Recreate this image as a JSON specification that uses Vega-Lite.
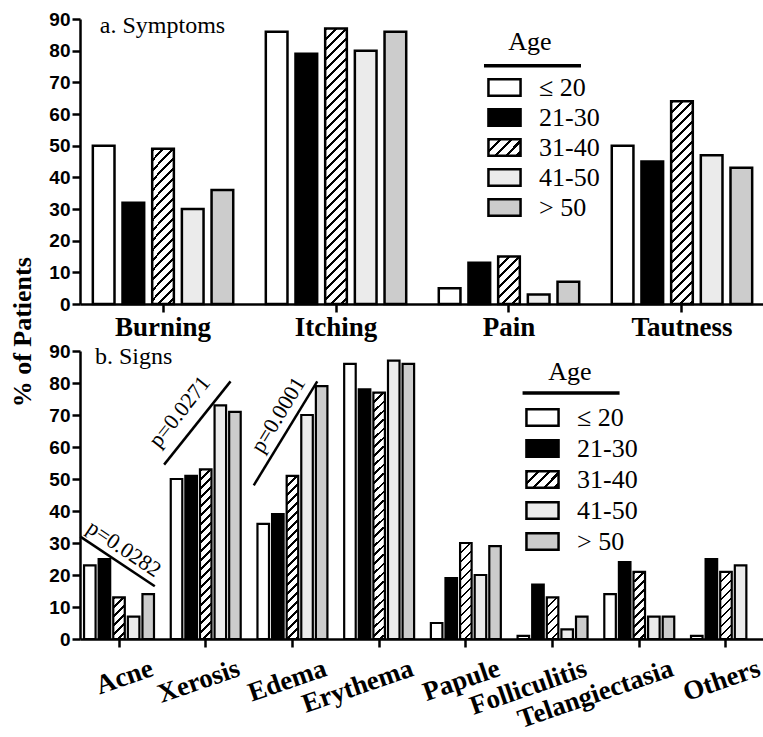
{
  "$schema": "https://vega.github.io/schema/vega-lite/v6.json",
  "background": "white",
  "padding": {"left": 9, "top": 10, "right": 0, "bottom": 0},
  "params": [
    {"name": "hs", "value": [
      {"offset": 0, "color": "black"}, {"offset": 0.01, "color": "black"}, {"offset": 0.01, "color": "white"}, {"offset": 0.0333, "color": "white"},
      {"offset": 0.0333, "color": "black"}, {"offset": 0.0433, "color": "black"}, {"offset": 0.0433, "color": "white"}, {"offset": 0.0667, "color": "white"},
      {"offset": 0.0667, "color": "black"}, {"offset": 0.0767, "color": "black"}, {"offset": 0.0767, "color": "white"}, {"offset": 0.1, "color": "white"},
      {"offset": 0.1, "color": "black"}, {"offset": 0.11, "color": "black"}, {"offset": 0.11, "color": "white"}, {"offset": 0.1333, "color": "white"},
      {"offset": 0.1333, "color": "black"}, {"offset": 0.1433, "color": "black"}, {"offset": 0.1433, "color": "white"}, {"offset": 0.1667, "color": "white"},
      {"offset": 0.1667, "color": "black"}, {"offset": 0.1767, "color": "black"}, {"offset": 0.1767, "color": "white"}, {"offset": 0.2, "color": "white"},
      {"offset": 0.2, "color": "black"}, {"offset": 0.21, "color": "black"}, {"offset": 0.21, "color": "white"}, {"offset": 0.2333, "color": "white"},
      {"offset": 0.2333, "color": "black"}, {"offset": 0.2433, "color": "black"}, {"offset": 0.2433, "color": "white"}, {"offset": 0.2667, "color": "white"},
      {"offset": 0.2667, "color": "black"}, {"offset": 0.2767, "color": "black"}, {"offset": 0.2767, "color": "white"}, {"offset": 0.3, "color": "white"},
      {"offset": 0.3, "color": "black"}, {"offset": 0.31, "color": "black"}, {"offset": 0.31, "color": "white"}, {"offset": 0.3333, "color": "white"},
      {"offset": 0.3333, "color": "black"}, {"offset": 0.3433, "color": "black"}, {"offset": 0.3433, "color": "white"}, {"offset": 0.3667, "color": "white"},
      {"offset": 0.3667, "color": "black"}, {"offset": 0.3767, "color": "black"}, {"offset": 0.3767, "color": "white"}, {"offset": 0.4, "color": "white"},
      {"offset": 0.4, "color": "black"}, {"offset": 0.41, "color": "black"}, {"offset": 0.41, "color": "white"}, {"offset": 0.4333, "color": "white"},
      {"offset": 0.4333, "color": "black"}, {"offset": 0.4433, "color": "black"}, {"offset": 0.4433, "color": "white"}, {"offset": 0.4667, "color": "white"},
      {"offset": 0.4667, "color": "black"}, {"offset": 0.4767, "color": "black"}, {"offset": 0.4767, "color": "white"}, {"offset": 0.5, "color": "white"},
      {"offset": 0.5, "color": "black"}, {"offset": 0.51, "color": "black"}, {"offset": 0.51, "color": "white"}, {"offset": 0.5333, "color": "white"},
      {"offset": 0.5333, "color": "black"}, {"offset": 0.5433, "color": "black"}, {"offset": 0.5433, "color": "white"}, {"offset": 0.5667, "color": "white"},
      {"offset": 0.5667, "color": "black"}, {"offset": 0.5767, "color": "black"}, {"offset": 0.5767, "color": "white"}, {"offset": 0.6, "color": "white"},
      {"offset": 0.6, "color": "black"}, {"offset": 0.61, "color": "black"}, {"offset": 0.61, "color": "white"}, {"offset": 0.6333, "color": "white"},
      {"offset": 0.6333, "color": "black"}, {"offset": 0.6433, "color": "black"}, {"offset": 0.6433, "color": "white"}, {"offset": 0.6667, "color": "white"},
      {"offset": 0.6667, "color": "black"}, {"offset": 0.6767, "color": "black"}, {"offset": 0.6767, "color": "white"}, {"offset": 0.7, "color": "white"},
      {"offset": 0.7, "color": "black"}, {"offset": 0.71, "color": "black"}, {"offset": 0.71, "color": "white"}, {"offset": 0.7333, "color": "white"},
      {"offset": 0.7333, "color": "black"}, {"offset": 0.7433, "color": "black"}, {"offset": 0.7433, "color": "white"}, {"offset": 0.7667, "color": "white"},
      {"offset": 0.7667, "color": "black"}, {"offset": 0.7767, "color": "black"}, {"offset": 0.7767, "color": "white"}, {"offset": 0.8, "color": "white"},
      {"offset": 0.8, "color": "black"}, {"offset": 0.81, "color": "black"}, {"offset": 0.81, "color": "white"}, {"offset": 0.8333, "color": "white"},
      {"offset": 0.8333, "color": "black"}, {"offset": 0.8433, "color": "black"}, {"offset": 0.8433, "color": "white"}, {"offset": 0.8667, "color": "white"},
      {"offset": 0.8667, "color": "black"}, {"offset": 0.8767, "color": "black"}, {"offset": 0.8767, "color": "white"}, {"offset": 0.9, "color": "white"},
      {"offset": 0.9, "color": "black"}, {"offset": 0.91, "color": "black"}, {"offset": 0.91, "color": "white"}, {"offset": 0.9333, "color": "white"},
      {"offset": 0.9333, "color": "black"}, {"offset": 0.9433, "color": "black"}, {"offset": 0.9433, "color": "white"}, {"offset": 0.9667, "color": "white"},
      {"offset": 0.9667, "color": "black"}, {"offset": 0.9767, "color": "black"}, {"offset": 0.9767, "color": "white"}, {"offset": 1, "color": "white"}
    ]}
  ],
  "title": {"text": "% of Patients", "orient": "left", "anchor": "middle", "font": "Liberation Serif", "fontSize": 26, "fontWeight": "bold", "color": "black", "offset": 13, "dx": 39},
  "datasets": {
    "symptoms": [
      {"cat": "Burning", "age": "≤ 20", "pct": 50}, {"cat": "Burning", "age": "21-30", "pct": 32}, {"cat": "Burning", "age": "31-40", "pct": 49}, {"cat": "Burning", "age": "41-50", "pct": 30}, {"cat": "Burning", "age": "> 50", "pct": 36},
      {"cat": "Itching", "age": "≤ 20", "pct": 86}, {"cat": "Itching", "age": "21-30", "pct": 79}, {"cat": "Itching", "age": "31-40", "pct": 87}, {"cat": "Itching", "age": "41-50", "pct": 80}, {"cat": "Itching", "age": "> 50", "pct": 86},
      {"cat": "Pain", "age": "≤ 20", "pct": 5}, {"cat": "Pain", "age": "21-30", "pct": 13}, {"cat": "Pain", "age": "31-40", "pct": 15}, {"cat": "Pain", "age": "41-50", "pct": 3}, {"cat": "Pain", "age": "> 50", "pct": 7},
      {"cat": "Tautness", "age": "≤ 20", "pct": 50}, {"cat": "Tautness", "age": "21-30", "pct": 45}, {"cat": "Tautness", "age": "31-40", "pct": 64}, {"cat": "Tautness", "age": "41-50", "pct": 47}, {"cat": "Tautness", "age": "> 50", "pct": 43}
    ],
    "signs": [
      {"cat": "Acne", "age": "≤ 20", "pct": 23}, {"cat": "Acne", "age": "21-30", "pct": 25}, {"cat": "Acne", "age": "31-40", "pct": 13}, {"cat": "Acne", "age": "41-50", "pct": 7}, {"cat": "Acne", "age": "> 50", "pct": 14},
      {"cat": "Xerosis", "age": "≤ 20", "pct": 50}, {"cat": "Xerosis", "age": "21-30", "pct": 51}, {"cat": "Xerosis", "age": "31-40", "pct": 53}, {"cat": "Xerosis", "age": "41-50", "pct": 73}, {"cat": "Xerosis", "age": "> 50", "pct": 71},
      {"cat": "Edema", "age": "≤ 20", "pct": 36}, {"cat": "Edema", "age": "21-30", "pct": 39}, {"cat": "Edema", "age": "31-40", "pct": 51}, {"cat": "Edema", "age": "41-50", "pct": 70}, {"cat": "Edema", "age": "> 50", "pct": 79},
      {"cat": "Erythema", "age": "≤ 20", "pct": 86}, {"cat": "Erythema", "age": "21-30", "pct": 78}, {"cat": "Erythema", "age": "31-40", "pct": 77}, {"cat": "Erythema", "age": "41-50", "pct": 87}, {"cat": "Erythema", "age": "> 50", "pct": 86},
      {"cat": "Papule", "age": "≤ 20", "pct": 5}, {"cat": "Papule", "age": "21-30", "pct": 19}, {"cat": "Papule", "age": "31-40", "pct": 30}, {"cat": "Papule", "age": "41-50", "pct": 20}, {"cat": "Papule", "age": "> 50", "pct": 29},
      {"cat": "Folliculitis", "age": "≤ 20", "pct": 1}, {"cat": "Folliculitis", "age": "21-30", "pct": 17}, {"cat": "Folliculitis", "age": "31-40", "pct": 13}, {"cat": "Folliculitis", "age": "41-50", "pct": 3}, {"cat": "Folliculitis", "age": "> 50", "pct": 7},
      {"cat": "Telangiectasia", "age": "≤ 20", "pct": 14}, {"cat": "Telangiectasia", "age": "21-30", "pct": 24}, {"cat": "Telangiectasia", "age": "31-40", "pct": 21}, {"cat": "Telangiectasia", "age": "41-50", "pct": 7}, {"cat": "Telangiectasia", "age": "> 50", "pct": 7},
      {"cat": "Others", "age": "≤ 20", "pct": 1}, {"cat": "Others", "age": "21-30", "pct": 25}, {"cat": "Others", "age": "31-40", "pct": 21}, {"cat": "Others", "age": "41-50", "pct": 23}
    ],
    "pvals": [
      {"cat": "Acne", "y1": 32, "y2": 16.5, "label": "p=0.0282"},
      {"cat": "Xerosis", "y1": 54.5, "y2": 80.5, "label": "p=0.0271"},
      {"cat": "Edema", "y1": 48, "y2": 80.5, "label": "p=0.0001"}
    ]
  },
  "spacing": 47,
  "bounds": "flush",
  "resolve": {"scale": {"x": "independent", "y": "independent", "fill": "independent", "xOffset": "independent"}, "legend": {"fill": "independent"}},
  "vconcat": [
    {
      "width": 685,
      "height": 285,
      "layer": [
        {
          "data": {"name": "symptoms"},
          "mark": {"type": "bar", "stroke": "black", "strokeWidth": 2.5},
          "encoding": {
            "x": {"field": "cat", "type": "nominal", "scale": {"domain": ["Burning", "Itching", "Pain", "Tautness"], "paddingInner": 0.142, "paddingOuter": 0.051},
                  "axis": {"title": null, "labelAngle": 0, "labelFont": "Liberation Serif", "labelFontWeight": "bold", "labelFontSize": 27, "labelPadding": 2, "labelOverlap": false}},
            "xOffset": {"field": "age", "type": "nominal", "scale": {"domain": ["≤ 20", "21-30", "31-40", "41-50", "> 50"], "paddingInner": 0.27, "paddingOuter": 0.135}},
            "y": {"field": "pct", "type": "quantitative", "scale": {"domain": [0, 90], "nice": false},
                  "axis": {"title": null, "values": [0, 10, 20, 30, 40, 50, 60, 70, 80, 90], "tickCount": 10, "labelOverlap": false, "labelSeparation": 0, "labelBound": false, "labelFlush": false, "labelFont": "Liberation Sans", "labelFontWeight": "bold", "labelFontSize": 19, "labelPadding": 2}},
            "fill": {
              "field": "age", "type": "nominal",
              "scale": {"domain": ["≤ 20", "21-30", "31-40", "41-50", "> 50"], "range": ["white", "black", {"expr": "{gradient: 'linear', x1: 0, y1: 0, x2: 8, y2: 4, stops: hs}"}, "#ebebeb", "#cccccc"]},
              "condition": {"test": "datum.age === '31-40'", "value": {"expr": "{gradient: 'linear', x1: 0, y1: 0, x2: 6540/(pow(datum.pct*3.167,2)+475), y2: 300*datum.pct*3.167/(pow(datum.pct*3.167,2)+475), stops: hs}"}},
              "legend": {
                "orient": "none", "legendX": 408, "legendY": 10,
                "title": "Age",
                "titleFont": "Liberation Serif", "titleFontSize": 26, "titleFontWeight": "normal", "titleColor": "black",
                "titleAnchor": "middle", "titleAlign": "center", "titlePadding": 16,
                "labelFont": "Liberation Serif", "labelFontSize": 26, "labelColor": "black", "labelOffset": 18,
                "symbolType": "M-1.07,-0.55H1.07V0.55H-1.07Z", "symbolSize": 900, "symbolStrokeColor": "black", "symbolStrokeWidth": 2.5,
                "rowPadding": 0, "padding": 0,
                "encode": {
                  "symbols": {"update": {
                    "stroke": {"value": "black"},
                    "strokeWidth": {"value": 2.5},
                    "opacity": {"value": 1}
                  }},
                  "title": {"update": {"dx": {"value": -14}}}
                }
              }
            }
          }
        },
        {
          "data": {"values": [{"t": "a. Symptoms"}]},
          "mark": {"type": "text", "align": "left", "baseline": "alphabetic", "dx": 11, "dy": 14, "font": "Liberation Serif", "fontSize": 24, "color": "black"},
          "encoding": {
            "x": {"datum": "Burning", "type": "nominal", "bandPosition": 0},
            "y": {"datum": 90, "type": "quantitative"},
            "text": {"field": "t"}
          }
        },
        {
          "data": {"values": [{"t": "legend rule"}]},
          "mark": {"type": "tick", "orient": "horizontal", "size": 97, "thickness": 3.5, "color": "black", "opacity": 1, "xOffset": 23.5},
          "encoding": {
            "x": {"datum": "Pain", "type": "nominal"},
            "y": {"datum": 75.2, "type": "quantitative"}
          }
        }
      ]
    },
    {
      "width": 685,
      "height": 288,
      "layer": [
        {
          "data": {"name": "signs"},
          "mark": {"type": "bar", "stroke": "black", "strokeWidth": 2.2},
          "encoding": {
            "x": {"field": "cat", "type": "nominal", "scale": {"domain": ["Acne", "Xerosis", "Edema", "Erythema", "Papule", "Folliculitis", "Telangiectasia", "Others"], "paddingInner": 0.158, "paddingOuter": 0.029},
                  "axis": {"title": null, "labelAngle": -19, "labelAlign": "right", "labelBaseline": "top", "labelOffset": 29, "labelPadding": 8, "labelFont": "Liberation Serif", "labelFontWeight": "bold", "labelFontSize": 27, "labelOverlap": false}},
            "xOffset": {"field": "age", "type": "nominal", "scale": {"domain": ["≤ 20", "21-30", "31-40", "41-50", "> 50"], "paddingInner": 0.21, "paddingOuter": 0.105}},
            "y": {"field": "pct", "type": "quantitative", "scale": {"domain": [0, 90], "nice": false},
                  "axis": {"title": null, "values": [0, 10, 20, 30, 40, 50, 60, 70, 80, 90], "tickCount": 10, "labelOverlap": false, "labelSeparation": 0, "labelBound": false, "labelFlush": false, "labelFont": "Liberation Sans", "labelFontWeight": "bold", "labelFontSize": 19, "labelPadding": 2}},
            "fill": {
              "field": "age", "type": "nominal",
              "scale": {"domain": ["≤ 20", "21-30", "31-40", "41-50", "> 50"], "range": ["white", "black", {"expr": "{gradient: 'linear', x1: 0, y1: 0, x2: 8, y2: 4, stops: hs}"}, "#ebebeb", "#cccccc"]},
              "condition": {"test": "datum.age === '31-40'", "value": {"expr": "{gradient: 'linear', x1: 0, y1: 0, x2: 3105/(pow(datum.pct*3.2,2)+132), y2: 270*datum.pct*3.2/(pow(datum.pct*3.2,2)+132), stops: hs}"}},
              "legend": {
                "orient": "none", "legendX": 446, "legendY": 8,
                "title": "Age",
                "titleFont": "Liberation Serif", "titleFontSize": 26, "titleFontWeight": "normal", "titleColor": "black",
                "titleAnchor": "middle", "titleAlign": "center", "titlePadding": 16,
                "labelFont": "Liberation Serif", "labelFontSize": 26, "labelColor": "black", "labelOffset": 18,
                "symbolType": "M-1.07,-0.55H1.07V0.55H-1.07Z", "symbolSize": 900, "symbolStrokeColor": "black", "symbolStrokeWidth": 2.5,
                "rowPadding": 1, "padding": 0,
                "encode": {
                  "symbols": {"update": {
                    "stroke": {"value": "black"},
                    "strokeWidth": {"value": 2.5},
                    "opacity": {"value": 1}
                  }},
                  "title": {"update": {"dx": {"value": -12}}}
                }
              }
            }
          }
        },
        {
          "data": {"values": [{"t": "b. Signs"}]},
          "mark": {"type": "text", "align": "left", "baseline": "alphabetic", "dx": 12.5, "dy": 13, "font": "Liberation Serif", "fontSize": 24, "color": "black"},
          "encoding": {
            "x": {"datum": "Acne", "type": "nominal", "bandPosition": 0},
            "y": {"datum": 90, "type": "quantitative"},
            "text": {"field": "t"}
          }
        },
        {
          "data": {"values": [{"t": "legend rule"}]},
          "mark": {"type": "tick", "orient": "horizontal", "size": 97, "thickness": 3.5, "color": "black", "opacity": 1, "xOffset": 18.5},
          "encoding": {
            "x": {"datum": "Folliculitis", "type": "nominal"},
            "y": {"datum": 76.9, "type": "quantitative"}
          }
        },
        {
          "data": {"name": "pvals"},
          "transform": [{"filter": "datum.cat === 'Acne'"}],
          "layer": [
            {"mark": {"type": "rule", "color": "black", "strokeWidth": 2.5},
             "encoding": {"x": {"field": "cat", "type": "nominal", "bandPosition": -0.03, "axis": {"title": null}}, "x2": {"field": "cat", "bandPosition": 0.99},
                          "y": {"field": "y1", "type": "quantitative", "axis": {"title": null}}, "y2": {"field": "y2"}}},
            {"mark": {"type": "text", "angle": 34, "align": "left", "baseline": "alphabetic", "dx": 1, "dy": -7.5, "font": "Liberation Serif", "fontSize": 22, "color": "black"},
             "encoding": {"x": {"field": "cat", "type": "nominal", "bandPosition": -0.03, "axis": {"title": null}}, "y": {"field": "y1", "type": "quantitative", "axis": {"title": null}}, "text": {"field": "label"}}}
          ]
        },
        {
          "data": {"name": "pvals"},
          "transform": [{"filter": "datum.cat === 'Xerosis'"}],
          "layer": [
            {"mark": {"type": "rule", "color": "black", "strokeWidth": 2.5},
             "encoding": {"x": {"field": "cat", "type": "nominal", "bandPosition": -0.07, "axis": {"title": null}}, "x2": {"field": "cat", "bandPosition": 0.84},
                          "y": {"field": "y1", "type": "quantitative", "axis": {"title": null}}, "y2": {"field": "y2"}}},
            {"mark": {"type": "text", "angle": 308.6, "align": "left", "baseline": "alphabetic", "dx": 9, "dy": -14, "font": "Liberation Serif", "fontSize": 22, "color": "black"},
             "encoding": {"x": {"field": "cat", "type": "nominal", "bandPosition": -0.07, "axis": {"title": null}}, "y": {"field": "y1", "type": "quantitative", "axis": {"title": null}}, "text": {"field": "label"}}}
          ]
        },
        {
          "data": {"name": "pvals"},
          "transform": [{"filter": "datum.cat === 'Edema'"}],
          "layer": [
            {"mark": {"type": "rule", "color": "black", "strokeWidth": 2.5},
             "encoding": {"x": {"field": "cat", "type": "nominal", "bandPosition": -0.03, "axis": {"title": null}}, "x2": {"field": "cat", "bandPosition": 0.84},
                          "y": {"field": "y1", "type": "quantitative", "axis": {"title": null}}, "y2": {"field": "y2"}}},
            {"mark": {"type": "text", "angle": 301.4, "align": "left", "baseline": "alphabetic", "dx": 31, "dy": -9, "font": "Liberation Serif", "fontSize": 22, "color": "black"},
             "encoding": {"x": {"field": "cat", "type": "nominal", "bandPosition": -0.03, "axis": {"title": null}}, "y": {"field": "y1", "type": "quantitative", "axis": {"title": null}}, "text": {"field": "label"}}}
          ]
        }
      ]
    }
  ],
  "config": {
    "view": {"stroke": null},
    "axis": {"domainColor": "black", "domainWidth": 2.5, "tickColor": "black", "tickWidth": 2.5, "tickSize": 8, "labelColor": "black", "grid": false}
  }
}
